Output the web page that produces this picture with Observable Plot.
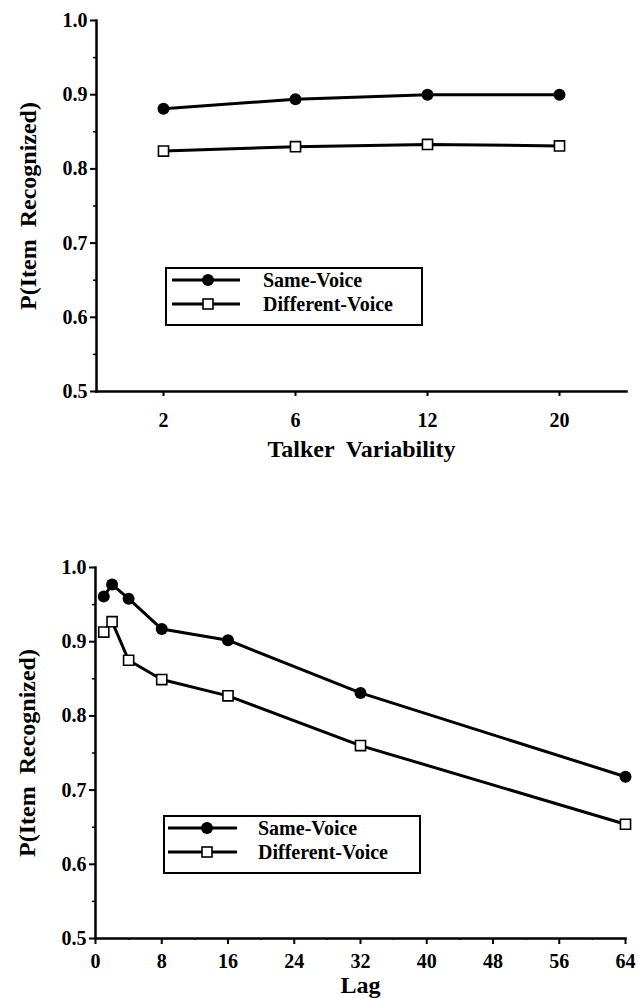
<!DOCTYPE html>
<html><head><meta charset="utf-8">
<script src="https://cdn.jsdelivr.net/npm/d3@7"></script>
<script src="https://cdn.jsdelivr.net/npm/@observablehq/plot@0.6"></script>
<style>
body{margin:0;background:#fff;}
#wrap{position:relative;width:639px;height:998px;font-family:"Liberation Serif","Times New Roman",serif;font-weight:bold;}
#wrap svg text{white-space:pre;}
.panel{position:absolute;left:0;}
.legend{position:absolute;border:2px solid #000;background:#fff;box-sizing:border-box;}
</style></head><body><div id="wrap"></div>
<script>
// ---- data ----
const talkerLevels = ["2", "6", "12", "20"];
const sameVoiceTalker = [0.881, 0.894, 0.900, 0.900];
const diffVoiceTalker = [0.824, 0.830, 0.833, 0.831];
const lags = [1, 2, 4, 8, 16, 32, 64];
const sameVoiceLag = [0.961, 0.977, 0.958, 0.917, 0.902, 0.831, 0.718];
const diffVoiceLag = [0.913, 0.927, 0.875, 0.849, 0.827, 0.760, 0.654];
const yTicks = [0.5, 0.6, 0.7, 0.8, 0.9, 1.0];
const yMinorTicks = [0.55, 0.65, 0.75, 0.85, 0.95];
const lagTicks = [0, 8, 16, 24, 32, 40, 48, 56, 64];
const lagMinorTicks = [4, 12, 20, 28, 36, 44, 52, 60];
const seriesNames = ["Same-Voice", "Different-Voice"];
const yLabel = "P(Item  Recognized)";
const xLabelTop = "Talker  Variability";
const xLabelBottom = "Lag";

const FONT = '"Liberation Serif","Times New Roman",serif';
const TICK_FS = 20, TITLE_FS = 24, LEGEND_FS = 20;
const wrap = document.getElementById("wrap");

function seriesMarks(xs, same, diff) {
  const s = xs.map((x, i) => ({x, y: same[i]}));
  const d = xs.map((x, i) => ({x, y: diff[i]}));
  return [
    Plot.line(s, {x: "x", y: "y", stroke: "#000", strokeWidth: 3}),
    Plot.line(d, {x: "x", y: "y", stroke: "#000", strokeWidth: 3}),
    Plot.dot(s, {x: "x", y: "y", symbol: "circle", fill: "#000", r: 6}),
    Plot.dot(d, {x: "x", y: "y", symbol: "square", fill: "#fff", stroke: "#000", strokeWidth: 1.6, r: 5.7})
  ];
}

function yAxisMarks() {
  return [
    Plot.axisY(yTicks, {tickSize: 6, tickPadding: 3, tickFormat: d3.format(".1f"), strokeWidth: 2, label: null, fontSize: TICK_FS}),
    Plot.axisY(yMinorTicks, {tickSize: 3, tickFormat: () => "", strokeWidth: 1.5, label: null}),
    Plot.frame({anchor: "left", strokeWidth: 2.5}),
    Plot.frame({anchor: "bottom", strokeWidth: 2.5})
  ];
}

// ---- top panel ----
const topPlot = Plot.plot({
  width: 639, height: 470,
  marginLeft: 96, marginRight: 13, marginTop: 20, marginBottom: 79,
  style: {fontFamily: FONT, fontWeight: "bold", fontSize: TICK_FS + "px", color: "#000", background: "transparent"},
  x: {type: "point", domain: talkerLevels, padding: 0.5},
  y: {domain: [0.5, 1.0]},
  marks: [
    ...yAxisMarks(),
    Plot.axisX(talkerLevels, {tickSize: 5, tickPadding: 16, strokeWidth: 2, label: null, fontSize: TICK_FS}),
    ...seriesMarks(talkerLevels, sameVoiceTalker, diffVoiceTalker),
    Plot.text([xLabelTop], {frameAnchor: "bottom", dy: 58, fontSize: TITLE_FS, lineAnchor: "middle", textAnchor: "middle"}),
    Plot.text([yLabel], {frameAnchor: "left", dx: -68, rotate: -90, fontSize: TITLE_FS, lineAnchor: "middle", textAnchor: "middle"})
  ]
});
topPlot.classList.add("panel");
topPlot.style.top = "0px";
wrap.appendChild(topPlot);

// ---- bottom panel ----
const botPlot = Plot.plot({
  width: 639, height: 528,
  marginLeft: 95, marginRight: 14, marginTop: 97, marginBottom: 60,
  style: {fontFamily: FONT, fontWeight: "bold", fontSize: TICK_FS + "px", color: "#000", background: "transparent"},
  x: {domain: [0, 64]},
  y: {domain: [0.5, 1.0]},
  marks: [
    ...yAxisMarks(),
    Plot.axisX(lagTicks, {tickSize: 6, tickPadding: 9, strokeWidth: 2, label: null, fontSize: TICK_FS}),
    Plot.axisX(lagMinorTicks, {tickSize: 2, tickFormat: () => "", strokeWidth: 1.5, label: null}),
    ...seriesMarks(lags, sameVoiceLag, diffVoiceLag),
    Plot.text([xLabelBottom], {frameAnchor: "bottom", dy: 47, fontSize: TITLE_FS, lineAnchor: "middle", textAnchor: "middle"}),
    Plot.text([yLabel], {frameAnchor: "left", dx: -68, rotate: -90, fontSize: TITLE_FS, lineAnchor: "middle", textAnchor: "middle"})
  ]
});
botPlot.classList.add("panel");
botPlot.style.top = "470px";
wrap.appendChild(botPlot);

// ---- legends ----
function legend(left, top, rowY, lineX, markX, textX) {
  const div = document.createElement("div");
  div.className = "legend";
  Object.assign(div.style, {left: left + "px", top: top + "px", width: "258px", height: "59px"});
  const svg = d3.create("svg").attr("width", 254).attr("height", 55).style("position", "absolute").style("left", "0").style("top", "0");
  seriesNames.forEach((name, i) => {
    const y = rowY[i];
    svg.append("line").attr("x1", lineX[0]).attr("x2", lineX[1]).attr("y1", y).attr("y2", y).attr("stroke", "#000").attr("stroke-width", 3);
    if (i === 0) svg.append("circle").attr("cx", markX).attr("cy", y).attr("r", 6).attr("fill", "#000");
    else svg.append("rect").attr("x", markX - 5).attr("y", y - 5).attr("width", 10).attr("height", 10).attr("fill", "#fff").attr("stroke", "#000").attr("stroke-width", 1.6);
    svg.append("text").attr("x", textX).attr("y", y).attr("dy", "0.35em").attr("font-family", FONT).attr("font-weight", "bold").attr("font-size", LEGEND_FS).text(name);
  });
  div.appendChild(svg.node());
  wrap.appendChild(div);
}
legend(165, 267, [11, 35], [5, 73], 41, 96);
legend(163, 815, [11, 35], [3, 72], 42, 93);
</script></body></html>
